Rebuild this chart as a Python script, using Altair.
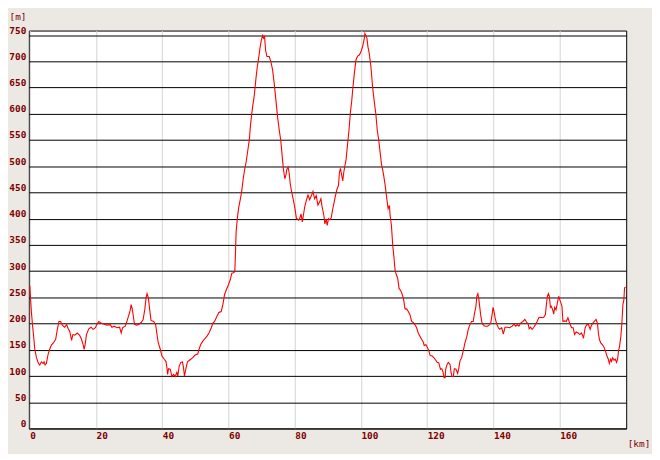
import altair as alt
import pandas as pd

# distance along route [km]
km = [0, 0.2, 0.5, 0.8, 1.1, 1.5, 2.0, 2.6, 3.0, 3.5, 4.0, 4.3, 4.6, 5.0, 5.5, 6.0, 6.5, 7.1, 7.8, 8.3,
      8.8, 9.3, 9.8, 10.5, 11.1, 11.6, 12.1, 12.6, 13.0, 13.6, 14.3, 15.0, 15.6, 16.1, 16.4, 16.7, 17.1, 17.8, 18.5, 19.1,
      19.8, 20.3, 20.8, 21.5, 22.3, 23.3, 24.3, 24.8, 25.5, 26.3, 27.1, 27.6, 28.0, 28.8, 29.3, 29.8, 30.3, 30.6, 30.9, 31.3,
      31.6, 32.2, 32.9, 33.6, 34.2, 34.7, 35.1, 35.4, 35.8, 36.2, 36.6, 37.4, 38.0, 38.4, 38.8, 39.4, 39.9, 40.6, 41.1, 41.4,
      41.6, 41.9, 42.4, 42.9, 43.4, 43.9, 44.4, 44.7, 45.1, 45.6, 46.1, 46.4, 46.7, 47.1, 47.6, 48.4, 49.2, 49.9, 50.7, 51.1,
      51.6, 52.3, 52.8, 53.5, 54.1, 54.8, 55.3, 55.8, 56.5, 57.1, 57.8, 58.3, 58.8, 59.3, 59.8, 60.5, 61.0, 61.5, 61.9, 62.0,
      62.3, 62.7, 63.1, 63.6, 64.0, 64.5, 65.0, 65.3, 65.8, 66.3, 66.6, 67.0, 67.3, 67.8, 68.3, 68.7, 69.1, 69.5, 69.9, 70.3,
      70.6, 70.9, 71.2, 71.6, 72.3, 72.8, 73.3, 73.8, 74.3, 74.8, 75.3, 75.8, 76.3, 76.6, 77.0, 77.4, 77.6, 78.0, 78.3, 78.6,
      79.0, 79.5, 80.0, 80.5, 81.1, 81.5, 81.9, 82.3, 82.6, 83.0, 83.5, 84.0, 84.5, 85.1, 85.5, 86.0, 86.5, 87.0, 87.6, 87.9,
      88.2, 88.8, 89.1, 89.5, 89.8, 90.2, 90.6, 91.0, 91.4, 91.8, 92.3, 92.8, 93.2, 93.5, 93.8, 94.2, 94.5, 94.8, 95.1, 95.5,
      95.8, 96.1, 96.4, 96.8, 97.2, 97.6, 98.0, 98.5, 99.0, 99.5, 100.0, 100.5, 100.9, 101.2, 101.5, 101.8, 102.1, 102.5, 103.0, 103.5,
      104.0, 104.5, 104.9, 105.4, 105.8, 106.2, 106.8, 107.3, 107.8, 108.2, 108.6, 108.8, 109.2, 109.6, 110.0, 110.3, 110.7, 111.1, 111.5, 112.0,
      112.5, 112.9, 113.3, 113.8, 114.3, 114.8, 115.3, 115.8, 116.3, 116.8, 117.3, 117.8, 118.3, 118.8, 119.1, 119.6, 120.1, 120.5, 120.9, 121.5,
      122.0, 122.5, 123.0, 123.5, 124.0, 124.4, 124.8, 125.1, 125.4, 125.6, 126.0, 126.4, 126.9, 127.2, 127.5, 127.9, 128.2, 128.7, 129.2, 129.5,
      129.9, 130.4, 130.9, 131.4, 132.0, 132.4, 132.9, 133.4, 133.9, 134.3, 134.7, 135.0, 135.3, 135.6, 135.9, 136.2, 136.6, 137.2, 137.7, 138.2,
      138.7, 139.2, 139.6, 139.9, 140.2, 140.5, 141.0, 141.5, 141.9, 142.5, 143.0, 143.5, 144.2, 144.9, 145.7, 146.2, 146.7, 147.2, 147.7, 148.2,
      148.9, 149.5, 150.0, 150.5, 150.8, 151.2, 151.7, 152.2, 152.7, 153.2, 153.7, 154.2, 154.7, 155.2, 155.7, 156.0, 156.3, 156.6, 156.9, 157.2,
      157.5, 157.9, 158.2, 158.5, 158.9, 159.4, 159.7, 160.0, 160.4, 160.7, 161.0, 161.5, 162.0, 162.5, 163.0, 163.6, 164.1, 164.5, 165.0, 165.6,
      166.1, 166.6, 167.0, 167.2, 167.7, 168.2, 168.7, 169.2, 169.5, 170.0, 170.5, 171.0, 171.4, 171.7, 172.0, 172.4, 172.9, 173.4, 173.9, 174.3,
      174.7, 175.0, 175.4, 175.7, 176.0, 176.4, 176.8, 177.2, 177.5, 177.8, 178.1, 178.5, 178.8, 179.1, 179.4, 179.6, 179.9]

# elevation [m]
elev = [272, 249, 220, 198, 179, 151, 135, 124, 121, 127, 124, 127, 121, 124, 141, 151, 159, 163, 170, 189,
        204, 204, 197, 193, 198, 190, 184, 168, 179, 178, 182, 178, 170, 160, 151, 160, 179, 190, 193, 189,
        192, 199, 204, 201, 199, 197, 198, 193, 195, 192, 193, 182, 192, 195, 204, 214, 225, 236, 229, 212,
        199, 197, 198, 202, 207, 226, 249, 257, 249, 226, 206, 204, 198, 179, 163, 151, 138, 132, 128, 116,
        103, 114, 113, 99, 103, 99, 107, 100, 119, 126, 127, 116, 100, 113, 127, 131, 135, 140, 142, 151,
        160, 167, 171, 176, 182, 192, 201, 204, 214, 221, 223, 236, 255, 264, 271, 283, 296, 297, 299, 315,
        375, 403, 422, 438, 453, 479, 498, 507, 529, 551, 576, 599, 614, 636, 668, 690, 706, 725, 740, 749,
        744, 747, 721, 709, 709, 699, 684, 658, 627, 595, 570, 548, 513, 494, 476, 485, 494, 498, 488, 469,
        453, 438, 422, 401, 397, 400, 409, 394, 406, 422, 435, 445, 436, 445, 452, 438, 444, 426, 433, 438,
        425, 406, 390, 399, 387, 400, 398, 401, 416, 428, 444, 457, 463, 488, 496, 482, 472, 488, 499, 513,
        532, 551, 570, 602, 624, 652, 677, 703, 710, 712, 718, 728, 740, 753, 748, 744, 728, 715, 690, 652,
        624, 599, 570, 548, 526, 504, 485, 464, 438, 419, 425, 406, 387, 349, 324, 302, 293, 286, 267, 263,
        255, 245, 228, 228, 223, 217, 204, 202, 198, 192, 182, 176, 170, 165, 158, 160, 154, 148, 139, 138,
        135, 131, 126, 125, 113, 114, 107, 97, 97, 113, 122, 126, 122, 107, 99, 99, 114, 113, 105, 113,
        129, 135, 148, 163, 176, 189, 198, 204, 204, 220, 232, 252, 257, 247, 230, 214, 200, 196, 195, 195,
        197, 201, 217, 231, 223, 211, 199, 192, 189, 192, 180, 193, 193, 192, 195, 199, 195, 198, 195, 201,
        204, 208, 203, 199, 190, 193, 189, 193, 198, 204, 211, 212, 211, 212, 217, 236, 252, 257, 252, 231,
        233, 226, 218, 231, 226, 242, 252, 246, 239, 233, 204, 205, 204, 211, 201, 192, 192, 179, 184, 182,
        179, 182, 176, 172, 192, 198, 198, 189, 195, 201, 204, 208, 201, 182, 170, 163, 160, 155, 146, 138,
        132, 124, 132, 128, 135, 130, 132, 126, 132, 149, 157, 176, 201, 236, 245, 268, 270]

x_ticks = [0, 20, 40, 60, 80, 100, 120, 140, 160]
y_ticks = [0, 50, 100, 150, 200, 250, 300, 350, 400, 450, 500, 550, 600, 650, 700, 750]

df = pd.DataFrame({"km": km, "elev": elev})

LABEL_FONT = "DejaVu Sans Mono"
DARK_RED = "#800000"

chart = alt.Chart(df).mark_line(color="#ff0000", strokeWidth=1.1).encode(
    x=alt.X(
        "km:Q",
        scale=alt.Scale(domain=[-0.3, 180.1], nice=False, zero=False),
        axis=alt.Axis(
            values=x_ticks,
            title="[km]",
            titleX=603, titleY=18, titleAlign="left", titleBaseline="alphabetic",
            grid=True, gridColor="#d4d4d4", gridWidth=1,
            domain=False, ticks=False,
            labelAlign="left", labelBaseline="top", labelPadding=2,
            labelOverlap=False, labelFlush=False,
        ),
    ),
    y=alt.Y(
        "elev:Q",
        scale=alt.Scale(domain=[0, 758.6], nice=False),
        axis=alt.Axis(
            values=y_ticks,
            title="[m]",
            titleX=-20, titleY=-11, titleAngle=0, titleAlign="left", titleBaseline="alphabetic",
            grid=True, gridColor="#000000", gridWidth=1, gridOpacity=1,
            domain=False, ticks=False,
            labelAlign="right", labelBaseline="alphabetic", labelPadding=3, labelOffset=-2,
            labelOverlap=False, labelFlush=False,
        ),
    ),
).properties(
    width=602,
    height=401,
    autosize=alt.AutoSizeParams(type="none"),
    padding={"left": 21, "top": 21, "right": 26, "bottom": 24},
    background="#ece9e5",
).configure_view(
    fill="white", stroke="black", strokeWidth=1,
).configure_axis(
    labelFont=LABEL_FONT, labelFontSize=9.5, labelFontWeight="bold", labelColor=DARK_RED,
    titleFont=LABEL_FONT, titleFontSize=9.5, titleFontWeight="normal", titleColor=DARK_RED,
)

chart.save("out.html", embed_options={"renderer": "svg", "actions": False})
